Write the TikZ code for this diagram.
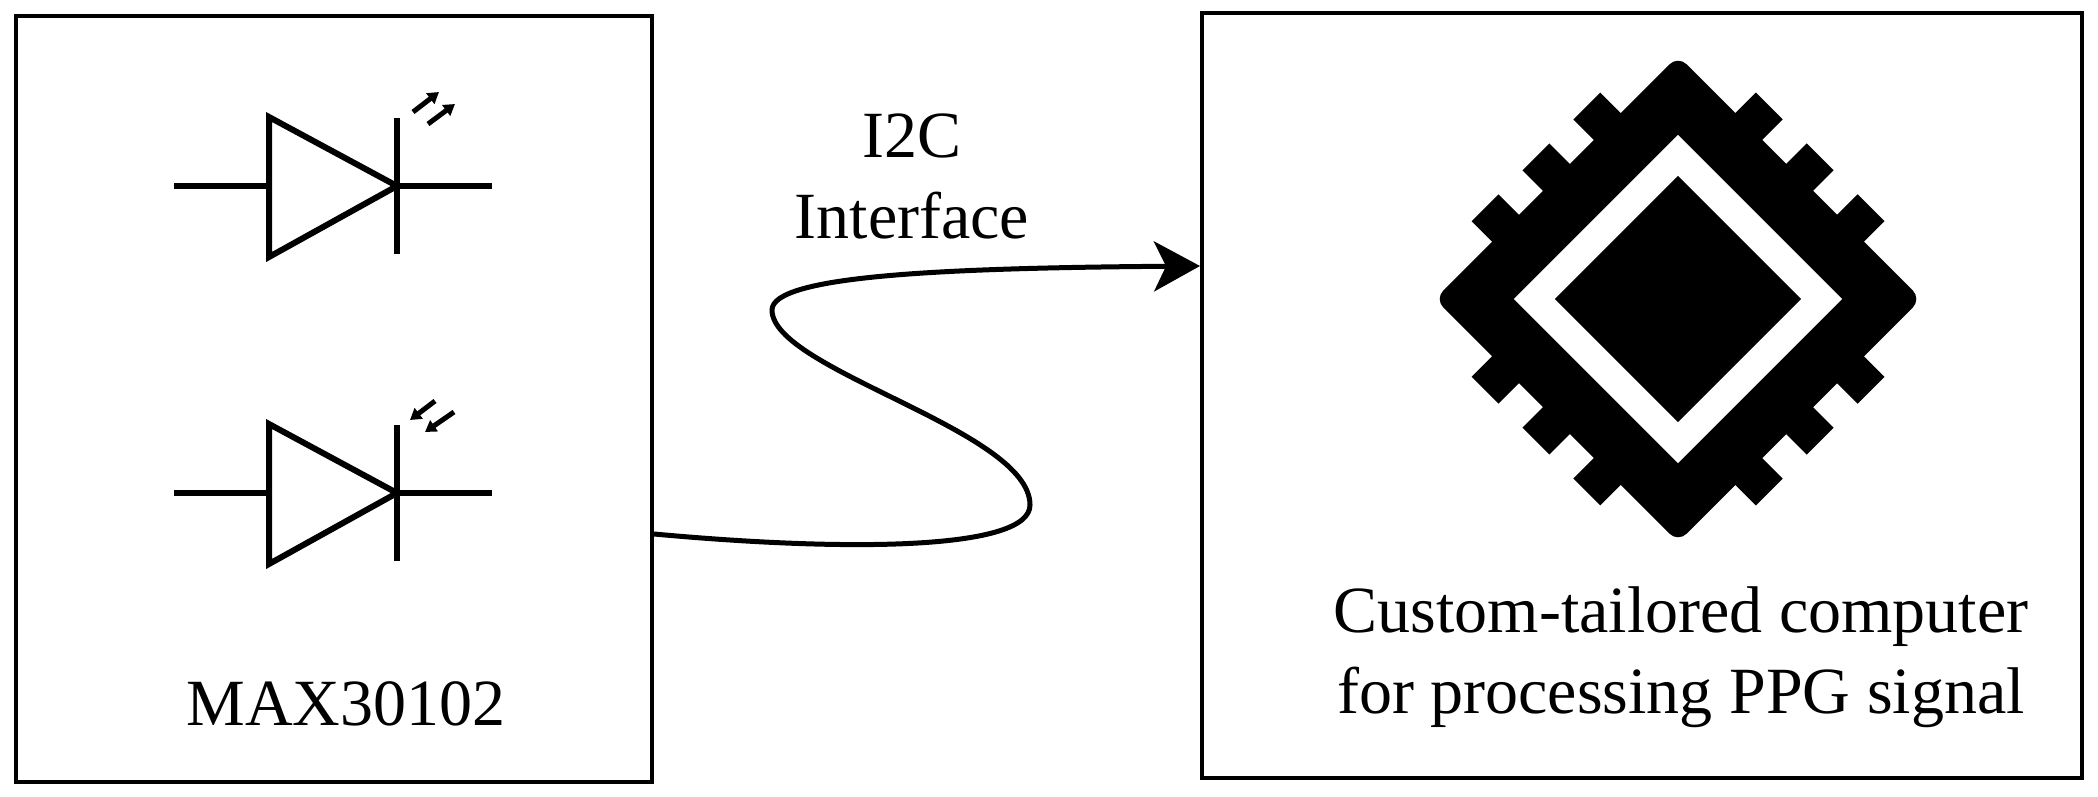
\documentclass[tikz,border=0pt]{standalone}
\usepackage{fontspec}
\setmainfont{Liberation Serif}
\usetikzlibrary{arrows.meta,calc}
\begin{document}
\begin{tikzpicture}[x=1pt,y=-1pt,
  box/.style={draw,line width=4pt,inner sep=0pt},
  lbl/.style={font=\fontsize{66}{81}\selectfont,align=center,inner sep=0pt},
  wire/.style={line width=6pt},
  light/.style={line width=5pt,-{Triangle[length=11pt,width=13pt]}}]
\useasboundingbox (0,0) rectangle (2098,797);
\node[box,minimum width=636pt,minimum height=766pt] (sensor) at (334,399) {};
\node[box,minimum width=880pt,minimum height=765pt] (comp) at (1642,395.5) {};
% diode 1
\foreach \dy/\n in {0/a,307/b}{
  \begin{scope}[yshift=-\dy pt]
  \draw[wire] (174,186) -- (269,186);
  \draw[wire,line join=miter] (269,117) -- (397,186) -- (269,257) -- cycle;
  \draw[wire] (397,118) -- (397,254);
  \draw[wire] (397,186) -- (492,186);
  \end{scope}}
\draw[light] (413,112) -- (439,92);
\draw[light] (428,124) -- (455,104);
\draw[light] (435,401) -- (410,420);
\draw[light] (454,412) -- (425,432);
\node[lbl] (m) at (346,704) {MAX30102};
\node[lbl] (i2c) at (912,176) {I2C\\Interface};
\node[lbl] (ct) at (1681,657) {Custom-tailored computer\\for processing PPG signal};
% chip
\begin{scope}[shift={(1678,299)},rotate=45]
  \fill[rounded corners=12pt] (-172,-172) rectangle (172,172);
  \foreach \r in {0,90,180,270}{
    \foreach \t in {-72,0,72}{
      \fill[rotate=\r] (170,\t-19) rectangle (201,\t+19);}}
  \fill[white] (-116,-116) rectangle (116,116);
  \fill (-87,-87) rectangle (87,87);
\end{scope}
\coordinate (s) at ($(sensor.east)+(0,135)$);
\coordinate (e) at ($(comp.west)+(0,-129.5)$);
\draw[line width=5pt,-{Stealth[length=46pt,width=50pt,inset=12pt]}]
  (s) .. controls (850,552) and (1030,550) .. (1030,505)
      .. controls (1030,430) and (772,370) .. (772,310)
      .. controls (772,275) and (950,268) .. (e);
\end{tikzpicture}
\end{document}
